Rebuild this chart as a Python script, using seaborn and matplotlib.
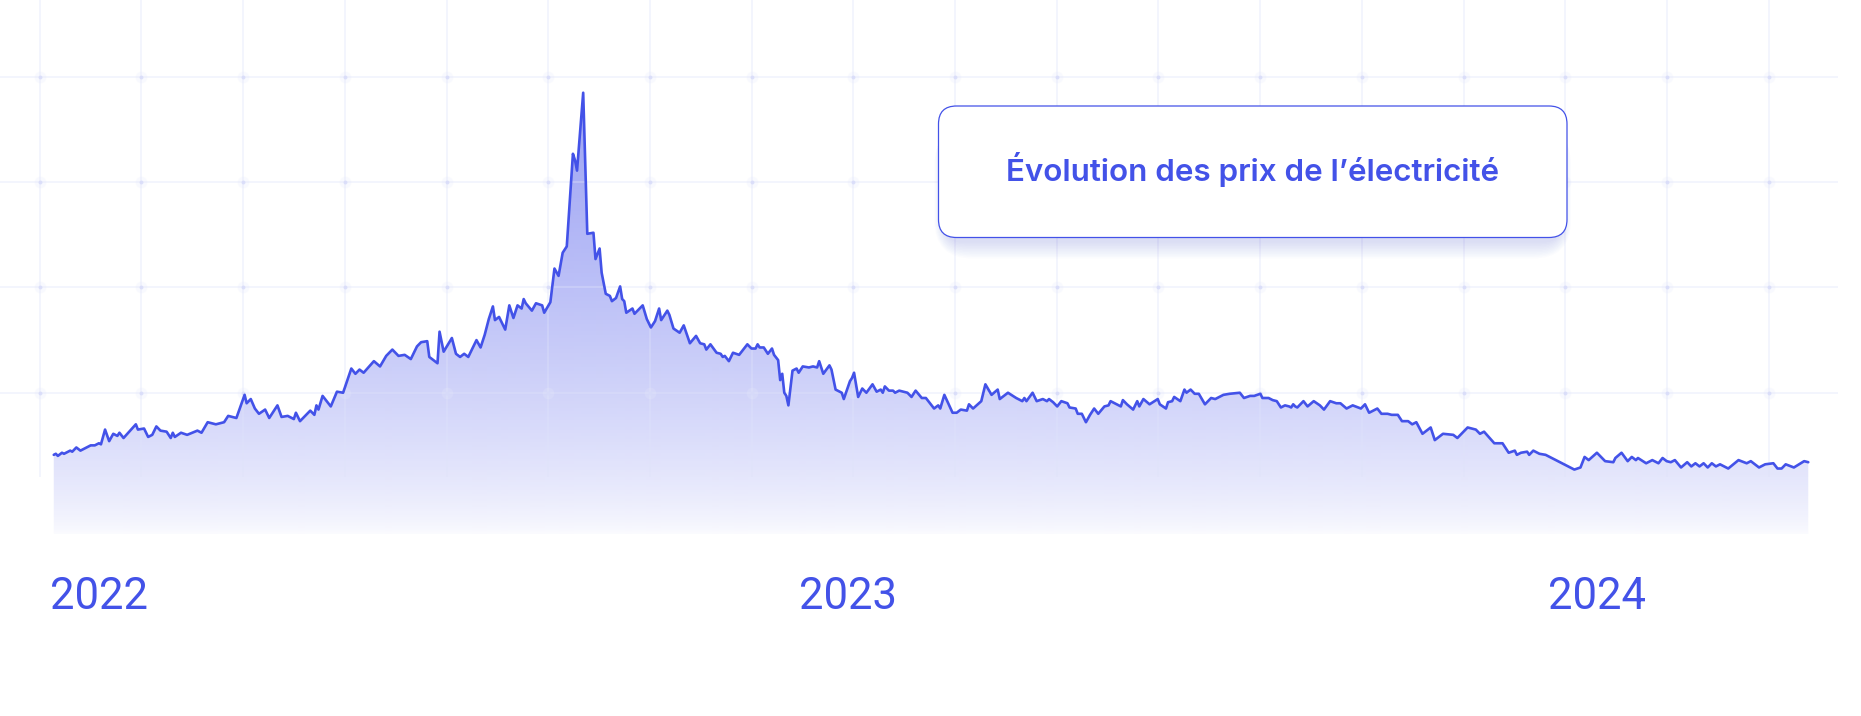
import numpy as np
import pandas as pd
import matplotlib
matplotlib.use("Agg")
import matplotlib.pyplot as plt
import matplotlib.colors as mcolors
from matplotlib.patches import FancyBboxPatch
from matplotlib.transforms import IdentityTransform
import seaborn as sns

# =========================================================
# DONNEES
# =========================================================

debut = pd.Timestamp("2022-01-01")

# jours depuis le 1er janvier 2022
jours = [
    2, 3, 4, 6, 7, 10, 11, 13, 15, 20, 22, 24, 25, 27, 29, 31, 33, 34, 36, 42,
    43, 46, 48, 50, 52, 54, 57, 59, 60, 61, 64, 67, 72, 74, 77, 81, 85, 87, 91, 95,
    96, 98, 100, 102, 105, 107, 111, 113, 116, 119, 120, 122, 127, 129, 130, 131, 133, 137, 140, 143,
    147, 149, 151, 153, 158, 161, 164, 167, 170, 173, 176, 179, 181, 184, 185, 189, 190, 192, 196, 198,
    200, 202, 204, 208, 210, 212, 214, 216, 217, 219, 222, 224, 226, 228, 230, 231, 232, 235, 237, 240,
    241, 244, 246, 248, 250, 252, 255, 256, 257, 260, 262, 265, 266, 268, 269, 271, 273, 274, 276, 278,
    279, 280, 281, 284, 285, 289, 291, 293, 295, 297, 298, 301, 302, 304, 307, 309, 312, 315, 317, 319,
    320, 322, 325, 327, 328, 329, 331, 333, 336, 340, 342, 344, 345, 346, 348, 350, 352, 353, 355, 356,
    357, 358, 359, 360, 362, 364, 365, 367, 370, 372, 374, 375, 377, 380, 381, 383, 386, 387, 390, 391,
    392, 394, 396, 398, 401, 403, 405, 406, 407, 409, 411, 412, 414, 418, 420, 422, 425, 427, 431, 433,
    434, 436, 440, 442, 444, 447, 448, 450, 454, 456, 459, 462, 463, 467, 471, 474, 475, 476, 479, 481,
    484, 486, 487, 489, 491, 493, 496, 497, 500, 501, 503, 505, 507, 509, 511, 514, 516, 517, 519, 522,
    523, 525, 528, 530, 531, 533, 536, 540, 541, 544, 545, 547, 548, 551, 553, 554, 556, 558, 560, 563,
    566, 568, 572, 575, 580, 582, 585, 587, 590, 591, 594, 596, 598, 600, 602, 604, 605, 606, 607, 608,
    611, 613, 616, 619, 621, 624, 627, 629, 632, 635, 639, 641, 643, 647, 649, 652, 654, 657, 659, 662,
    664, 666, 669, 673, 675, 679, 684, 686, 691, 695, 697, 699, 704, 708, 711, 714, 715, 717, 720, 721,
    723, 726, 729, 730, 734, 738, 743, 746, 748, 750, 754, 758, 762, 763, 766, 769, 771, 773, 774, 778,
    781, 784, 786, 788, 790, 792, 795, 798, 800, 802, 804, 806, 808, 810, 812, 814, 818, 823, 827, 829,
    833, 836, 840, 842, 844, 846, 850, 855, 857,
]

prix = [
    141, 142, 140, 143, 142, 145, 144, 148, 145, 150, 150, 152, 151, 165, 154, 161, 159, 162, 157, 170,
    165, 166, 158, 160, 168, 164, 163, 157, 162, 158, 162, 160, 164, 162, 172, 170, 172, 178, 176, 198,
    190, 194, 185, 180, 184, 176, 188, 177, 178, 175, 181, 173, 183, 179, 188, 184, 197, 187, 201, 200,
    223, 218, 222, 219, 230, 225, 235, 241, 235, 236, 232, 244, 248, 249, 234, 228, 258, 239, 252, 237,
    234, 237, 234, 250, 243, 255, 270, 282, 269, 272, 260, 283, 271, 283, 280, 289, 285, 278, 285, 283,
    276, 286, 318, 311, 333, 339, 427, 421, 411, 485, 351, 352, 327, 337, 314, 294, 292, 287, 290, 301,
    289, 287, 276, 280, 275, 283, 270, 262, 268, 280, 269, 278, 274, 261, 257, 264, 247, 254, 247, 246,
    241, 246, 238, 237, 234, 235, 230, 238, 236, 246, 242, 242, 246, 243, 243, 237, 242, 236, 231, 212,
    218, 200, 197, 188, 221, 223, 219, 225, 224, 225, 224, 230, 218, 226, 222, 203, 200, 194, 211, 214,
    219, 196, 204, 200, 208, 201, 203, 200, 206, 202, 202, 200, 202, 200, 196, 202, 195, 195, 185, 188,
    185, 198, 181, 181, 184, 183, 189, 185, 192, 208, 198, 203, 194, 200, 195, 192, 195, 192, 200, 192,
    194, 192, 194, 191, 187, 192, 190, 186, 185, 180, 180, 172, 179, 185, 180, 187, 188, 192, 190, 187,
    193, 189, 184, 192, 187, 194, 189, 194, 189, 185, 191, 192, 196, 192, 203, 200, 203, 199, 199, 189,
    195, 194, 198, 199, 200, 195, 197, 197, 199, 195, 195, 193, 192, 186, 188, 187, 186, 189, 187, 186,
    192, 187, 192, 188, 184, 192, 190, 190, 185, 188, 185, 189, 181, 185, 180, 180, 179, 179, 173, 173,
    170, 172, 161, 167, 155, 161, 160, 157, 167, 165, 161, 163, 152, 152, 143, 145, 141, 143, 144, 141,
    145, 142, 141, 140, 136, 132, 127, 129, 139, 136, 143, 135, 134, 138, 143, 135, 139, 136, 138, 133,
    136, 133, 138, 135, 134, 136, 129, 134, 130, 133, 130, 133, 129, 133, 130, 132, 128, 136, 133, 135,
    129, 132, 133, 128, 128, 132, 129, 135, 134,
]

annees = [2022, 2023, 2024]
titre = "Évolution des prix de l’électricité"

df = pd.DataFrame({
    "date": debut + pd.to_timedelta(jours, unit="D"),
    "prix": prix,
})

# =========================================================
# MISE EN PAGE
# =========================================================

W, H = 1861, 716
BAS = 534                      # bas de la zone du graphique (px)
BLEU = "#4352E8"
GRILLE = "#dfe3fa"

sns.set_style("white")
plt.rcParams["font.family"] = ["Roboto", "DejaVu Sans"]

fig = plt.figure(figsize=(W / 100, H / 100), dpi=100, facecolor="white")
ax = fig.add_axes([0, 1 - BAS / H, 1, BAS / H])

y_bas, y_haut = 65.8, 573.1
x_gauche = debut - pd.Timedelta(days=24.2)
x_droite = debut + pd.Timedelta(days=882.7)

# =========================================================
# REMPLISSAGE EN DEGRADE
# =========================================================

py = np.arange(BAS) + 0.5
t = np.clip((BAS - py) / 434, 0, None)
alpha = np.clip(0.02 + 0.52 * t ** 0.7, 0, 0.6)
degrade = np.zeros((BAS, 1, 4))
degrade[..., :3] = mcolors.to_rgb("#4a55ea")
degrade[..., 3] = alpha[:, None]

img = ax.imshow(degrade, extent=[0, 1, 0, 1], transform=ax.transAxes,
                aspect="auto", origin="upper", interpolation="bilinear", zorder=1)
aire = ax.fill_between(df["date"], df["prix"], y_bas,
                       facecolor="none", edgecolor="none")
img.set_clip_path(aire.get_paths()[0], transform=ax.transData)

# =========================================================
# GRILLE DECORATIVE
# =========================================================

gx = (39.7 + 101.7 * np.arange(18)) / W
gy = 1 - np.array([76.7, 182.0, 287.3, 392.7]) / BAS

ax.vlines(gx, 1 - 477 / BAS, 1, transform=ax.transAxes,
          colors=GRILLE, linewidth=1.1, alpha=0.45, zorder=2)
ax.hlines(gy, 0, 1838 / W, transform=ax.transAxes,
          colors=GRILLE, linewidth=1.1, alpha=0.45, zorder=2)

px, py_ = np.meshgrid(gx, gy)
ax.scatter(px.ravel(), py_.ravel(), s=70, color="#e6e9fc", alpha=0.25,
           linewidths=0, transform=ax.transAxes, zorder=2)
ax.scatter(px.ravel(), py_.ravel(), s=8, color="#d6daf9", alpha=0.8,
           linewidths=0, transform=ax.transAxes, zorder=2)

# =========================================================
# COURBE
# =========================================================

sns.lineplot(data=df, x="date", y="prix", color=BLEU, linewidth=1.9,
             estimator=None, ax=ax, zorder=4)

ax.set_xlim(x_gauche, x_droite)
ax.set_ylim(y_bas, y_haut)
ax.set_axis_off()

for a in annees:
    ax.text(pd.Timestamp(f"{a}-01-01"), (BAS - 609) / BAS, str(a),
            transform=ax.get_xaxis_transform(), ha="left", va="baseline",
            fontsize=31.4, color=BLEU, clip_on=False)

# =========================================================
# CARTOUCHE DU TITRE
# =========================================================

bx0, bx1 = 938.5, 1567.0
by0, by1 = 106.0, 237.5
bw, bh = bx1 - bx0, by1 - by0

for e in range(0, 22, 2):
    ombre = FancyBboxPatch((bx0 + 6 - e * 0.5, H - by1 - 5 - e * 0.8), bw - 12 + e, bh,
                           boxstyle=f"round,pad=0,rounding_size={18 + e}",
                           facecolor="#5a66ee", edgecolor="none", alpha=0.02,
                           transform=IdentityTransform(), zorder=5)
    fig.add_artist(ombre)

boite = FancyBboxPatch((bx0, H - by1), bw, bh,
                       boxstyle="round,pad=0,rounding_size=18",
                       facecolor="white", edgecolor=BLEU, linewidth=0.9,
                       transform=IdentityTransform(), zorder=6)
fig.add_artist(boite)

txt = fig.text((bx0 + bx1) / 2 / W, 1 - 181 / H, titre, ha="center", va="baseline",
               fontsize=20, fontweight="semibold", color=BLEU,
               family=["Inter", "DejaVu Sans"], zorder=7)

# ajuste la taille pour retrouver la largeur du titre (~495 px)
fig.canvas.draw()
largeur = txt.get_window_extent().width
txt.set_fontsize(20 * 495 / largeur)

fig.savefig("out.png", dpi=100, facecolor="white")
